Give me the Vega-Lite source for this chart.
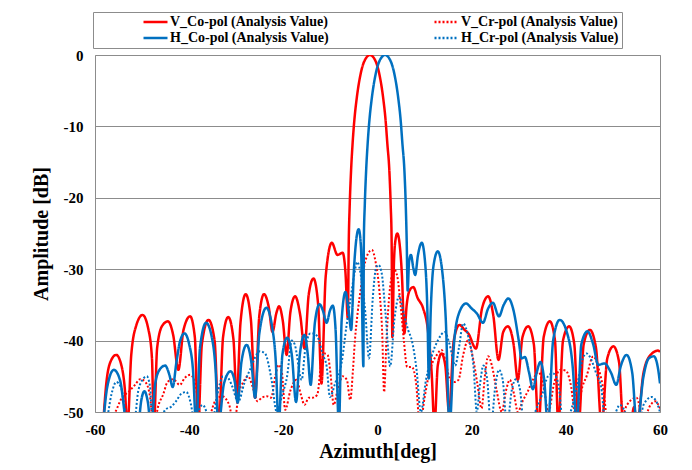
{
"$schema": "https://vega.github.io/schema/vega-lite/v6.json",
"width": 565, "height": 357,
"autosize": {"type": "none"},
"padding": {"left": 95, "top": 55, "right": 32, "bottom": 58},
"background": "white",
"config": {
"font": "Liberation Serif",
"view": {"stroke": "#8c8c8c", "strokeWidth": 1},
"axis": {"labelFont": "Liberation Serif", "labelFontWeight": "bold", "labelFontSize": 15, "labelColor": "black", "labelFlush": false, "labelExpr": "'' + datum.value", "titleFont": "Liberation Serif", "titleFontWeight": "bold", "titleFontSize": 20, "titleColor": "black", "ticks": false, "domain": false, "gridColor": "#8c8c8c", "gridOpacity": 1, "gridWidth": 1}
},
"datasets": {
"vco": [{"x":-58.3,"y":-52},{"x":-57.6,"y":-46},{"x":-56.6,"y":-42.8},{"x":-55.5,"y":-42.0},{"x":-54.5,"y":-43.2},{"x":-53.7,"y":-46.5},{"x":-53.1,"y":-52},{"x":-52.3,"y":-42},{"x":-51.2,"y":-37.8},{"x":-49.9,"y":-36.4},{"x":-48.7,"y":-38.3},{"x":-47.9,"y":-42.5},{"x":-47.5,"y":-52},{"x":-46.8,"y":-41},{"x":-45.7,"y":-37.9},{"x":-44.5,"y":-37.3},{"x":-43.4,"y":-39.2},{"x":-42.3,"y":-44.1},{"x":-41.2,"y":-38.5},{"x":-39.8,"y":-36.6},{"x":-38.8,"y":-39.5},{"x":-38.1,"y":-52},{"x":-37.3,"y":-40.5},{"x":-35.9,"y":-37.1},{"x":-34.6,"y":-40},{"x":-33.7,"y":-52},{"x":-32.8,"y":-39.5},{"x":-31.7,"y":-36.7},{"x":-30.6,"y":-39.8},{"x":-29.9,"y":-48},{"x":-29.1,"y":-37.5},{"x":-28.0,"y":-33.5},{"x":-26.9,"y":-37},{"x":-26.0,"y":-48},{"x":-25.1,"y":-36.5},{"x":-24.1,"y":-33.5},{"x":-23.1,"y":-35.3},{"x":-22.3,"y":-38.8},{"x":-21.5,"y":-36.2},{"x":-20.9,"y":-35.2},{"x":-20.1,"y":-37.3},{"x":-19.3,"y":-42},{"x":-18.5,"y":-36},{"x":-17.5,"y":-33.8},{"x":-16.4,"y":-36.5},{"x":-15.5,"y":-41.1},{"x":-14.6,"y":-33.5},{"x":-13.6,"y":-31.3},{"x":-12.6,"y":-35},{"x":-11.9,"y":-46},{"x":-11.0,"y":-31},{"x":-9.7,"y":-26.3},{"x":-8.5,"y":-28},{"x":-7.4,"y":-27.7},{"x":-6.8,"y":-30.5},{"x":-6.3,"y":-36.9},{"x":-6.1,"y":-26},{"x":-5.9,"y":-21},{"x":-5.6,"y":-16},{"x":-5.3,"y":-12.5},{"x":-4.9,"y":-9},{"x":-4.4,"y":-6},{"x":-3.5,"y":-2.4},{"x":-2.6,"y":-0.6},{"x":-1.6,"y":0},{"x":-0.6,"y":-0.6},{"x":0.3,"y":-2.4},{"x":1.2,"y":-6},{"x":1.7,"y":-9},{"x":2.1,"y":-12.5},{"x":2.5,"y":-16},{"x":2.8,"y":-21},{"x":3.0,"y":-26},{"x":3.15,"y":-39.5},{"x":3.5,"y":-29},{"x":3.8,"y":-26},{"x":4.2,"y":-25.0},{"x":4.7,"y":-26.5},{"x":5.2,"y":-31},{"x":5.7,"y":-39},{"x":6.2,"y":-35},{"x":6.8,"y":-33},{"x":7.6,"y":-32.5},{"x":8.5,"y":-34},{"x":9.7,"y":-35.5},{"x":10.7,"y":-38.5},{"x":11.5,"y":-44.5},{"x":12.1,"y":-52},{"x":12.8,"y":-43.5},{"x":13.6,"y":-41.8},{"x":14.4,"y":-43.5},{"x":15.2,"y":-50},{"x":16.2,"y":-40},{"x":17.4,"y":-37.8},{"x":18.5,"y":-38.5},{"x":19.3,"y":-39},{"x":20.9,"y":-41.1},{"x":22.2,"y":-35.5},{"x":23.5,"y":-33.8},{"x":24.6,"y":-36.5},{"x":25.7,"y":-42.7},{"x":26.7,"y":-38.8},{"x":27.7,"y":-38},{"x":28.9,"y":-40.5},{"x":29.8,"y":-45.5},{"x":30.8,"y":-39.5},{"x":32.0,"y":-38},{"x":33.2,"y":-40.5},{"x":34.2,"y":-52},{"x":35.3,"y":-39.5},{"x":36.6,"y":-37.3},{"x":37.7,"y":-40},{"x":38.4,"y":-52},{"x":39.4,"y":-40},{"x":40.7,"y":-38},{"x":41.8,"y":-40.5},{"x":42.7,"y":-52},{"x":43.8,"y":-40.5},{"x":45.1,"y":-38.5},{"x":46.4,"y":-41},{"x":47.6,"y":-52},{"x":48.8,"y":-42.5},{"x":50.1,"y":-40.8},{"x":51.3,"y":-43},{"x":52.2,"y":-52},{"x":53.5,"y":-53},{"x":54.5,"y":-49.3},{"x":55.1,"y":-52},{"x":56.5,"y":-44.5},{"x":58,"y":-42},{"x":59.6,"y":-41.4},{"x":60,"y":-41.6}],
"vcr": [{"x":-58.5,"y":-52},{"x":-57,"y":-51},{"x":-55.7,"y":-50},{"x":-54.3,"y":-48},{"x":-52.9,"y":-47.2},{"x":-51.5,"y":-46.2},{"x":-50.4,"y":-45.4},{"x":-49.3,"y":-45.8},{"x":-48.3,"y":-47.9},{"x":-47.6,"y":-52},{"x":-46.5,"y":-49},{"x":-45.5,"y":-47.5},{"x":-44.6,"y":-45.8},{"x":-43.4,"y":-45.4},{"x":-42,"y":-46.2},{"x":-40.9,"y":-45.2},{"x":-39.8,"y":-44.8},{"x":-38.9,"y":-45.5},{"x":-38.2,"y":-48},{"x":-37.3,"y":-52},{"x":-36.5,"y":-52},{"x":-34.5,"y":-48.5},{"x":-33,"y":-47.8},{"x":-31.5,"y":-49},{"x":-30.5,"y":-52},{"x":-29.5,"y":-47.5},{"x":-28.5,"y":-45.8},{"x":-27.5,"y":-45},{"x":-26.5,"y":-46.5},{"x":-25.5,"y":-48.5},{"x":-24.6,"y":-48},{"x":-23.5,"y":-47.8},{"x":-22.6,"y":-48},{"x":-21.7,"y":-45},{"x":-21,"y":-43.4},{"x":-20.3,"y":-44.5},{"x":-19.6,"y":-49.7},{"x":-18.5,"y":-47},{"x":-17.2,"y":-45.5},{"x":-16.3,"y":-47.5},{"x":-15.5,"y":-49},{"x":-14.6,"y":-48},{"x":-13.8,"y":-48},{"x":-12.8,"y":-47.6},{"x":-12,"y":-43.5},{"x":-11.3,"y":-41.8},{"x":-10.6,"y":-42},{"x":-10.0,"y":-44.5},{"x":-9.3,"y":-49},{"x":-8.5,"y":-47},{"x":-7.4,"y":-45},{"x":-6.5,"y":-45.5},{"x":-5.8,"y":-48.3},{"x":-5.2,"y":-44},{"x":-4.8,"y":-40},{"x":-4.2,"y":-36},{"x":-3.5,"y":-32.5},{"x":-2.8,"y":-29.5},{"x":-2.0,"y":-27.8},{"x":-1.2,"y":-27.3},{"x":-0.4,"y":-29},{"x":0.4,"y":-33},{"x":1.0,"y":-39},{"x":1.4,"y":-47.2},{"x":1.9,"y":-40},{"x":2.4,"y":-34.5},{"x":3.0,"y":-31},{"x":3.5,"y":-30},{"x":4.2,"y":-31},{"x":4.9,"y":-35},{"x":5.6,"y":-40},{"x":6.3,"y":-43.7},{"x":7.3,"y":-43.7},{"x":8.2,"y":-46},{"x":9.0,"y":-52},{"x":10,"y":-48},{"x":11,"y":-44.5},{"x":12.6,"y":-42},{"x":13.6,"y":-41.3},{"x":14.5,"y":-43},{"x":15.4,"y":-45.5},{"x":16.3,"y":-45.8},{"x":17.2,"y":-45.5},{"x":18.2,"y":-42},{"x":19.2,"y":-40},{"x":20.3,"y":-42.5},{"x":21.2,"y":-46},{"x":22.1,"y":-49.5},{"x":22.8,"y":-45},{"x":23.5,"y":-42.2},{"x":24.3,"y":-43.5},{"x":25.3,"y":-47},{"x":26.4,"y":-50},{"x":27.3,"y":-47},{"x":28.1,"y":-45.5},{"x":29.0,"y":-47.5},{"x":29.8,"y":-50},{"x":30.8,"y":-48.5},{"x":32.0,"y":-47},{"x":33,"y":-45.5},{"x":34.2,"y":-44.4},{"x":35.3,"y":-46.5},{"x":36.3,"y":-50},{"x":37.5,"y":-46},{"x":38.8,"y":-44.1},{"x":40.0,"y":-44.2},{"x":41.0,"y":-46},{"x":42.2,"y":-51},{"x":43.5,"y":-46.5},{"x":44.4,"y":-45},{"x":45.8,"y":-42.2},{"x":47,"y":-44},{"x":48,"y":-47},{"x":49,"y":-52},{"x":51,"y":-52},{"x":53,"y":-49},{"x":55,"y":-48},{"x":56.5,"y":-51},{"x":58,"y":-49},{"x":59,"y":-48.5},{"x":60,"y":-49.5}],
"hco": [{"x":-58.3,"y":-52},{"x":-57.4,"y":-46.5},{"x":-56.0,"y":-44.1},{"x":-54.7,"y":-45.5},{"x":-53.3,"y":-52},{"x":-52.0,"y":-54},{"x":-50.8,"y":-52},{"x":-50.2,"y":-48.5},{"x":-49.5,"y":-47.1},{"x":-48.8,"y":-48.5},{"x":-48.1,"y":-52},{"x":-47.2,"y":-46},{"x":-46.2,"y":-44},{"x":-45.1,"y":-43.5},{"x":-44.2,"y":-44.8},{"x":-43.5,"y":-46.5},{"x":-42.7,"y":-43},{"x":-41.9,"y":-40},{"x":-41.0,"y":-39},{"x":-40.0,"y":-40.5},{"x":-39.2,"y":-44},{"x":-38.5,"y":-52},{"x":-37.7,"y":-41},{"x":-36.4,"y":-37.5},{"x":-35.2,"y":-39.5},{"x":-34.4,"y":-44},{"x":-33.8,"y":-52},{"x":-32.6,"y":-46},{"x":-31.2,"y":-44.3},{"x":-30.3,"y":-45.8},{"x":-29.7,"y":-48.7},{"x":-28.9,"y":-43},{"x":-27.8,"y":-40.6},{"x":-26.8,"y":-43},{"x":-26.0,"y":-48},{"x":-25.1,"y":-39},{"x":-23.6,"y":-35.4},{"x":-22.4,"y":-38},{"x":-21.6,"y":-43},{"x":-21.0,"y":-52},{"x":-20.2,"y":-42},{"x":-19.2,"y":-39.6},{"x":-18.2,"y":-42},{"x":-17.3,"y":-48.6},{"x":-16.5,"y":-42},{"x":-15.5,"y":-39.2},{"x":-14.8,"y":-42},{"x":-14.2,"y":-46.2},{"x":-13.3,"y":-37.5},{"x":-12.3,"y":-34.9},{"x":-11.6,"y":-35.8},{"x":-10.8,"y":-37.5},{"x":-10.1,"y":-35.8},{"x":-9.5,"y":-35.1},{"x":-8.9,"y":-38.5},{"x":-8.2,"y":-52},{"x":-7.6,"y":-37},{"x":-6.8,"y":-33.2},{"x":-6.1,"y":-36},{"x":-5.6,"y":-38.5},{"x":-5.0,"y":-30},{"x":-4.5,"y":-25.8},{"x":-4.0,"y":-24.4},{"x":-3.5,"y":-27},{"x":-3.0,"y":-43.6},{"x":-2.9,"y":-26},{"x":-2.7,"y":-21},{"x":-2.4,"y":-16},{"x":-2.1,"y":-12.5},{"x":-1.7,"y":-9},{"x":-1.2,"y":-6},{"x":-0.3,"y":-2.4},{"x":0.6,"y":-0.6},{"x":1.6,"y":0},{"x":2.6,"y":-0.6},{"x":3.5,"y":-2.4},{"x":4.4,"y":-6},{"x":4.9,"y":-9},{"x":5.3,"y":-12.5},{"x":5.7,"y":-16},{"x":6.0,"y":-21},{"x":6.2,"y":-26},{"x":6.4,"y":-33},{"x":6.7,"y":-29},{"x":7.1,"y":-28},{"x":7.6,"y":-29.8},{"x":8.0,"y":-30.8},{"x":8.6,"y":-28},{"x":9.4,"y":-26.3},{"x":10.1,"y":-29},{"x":10.6,"y":-36},{"x":10.9,"y":-45.3},{"x":11.3,"y":-36},{"x":11.9,"y":-29.5},{"x":12.8,"y":-27.5},{"x":13.7,"y":-30},{"x":14.5,"y":-37},{"x":15.3,"y":-52},{"x":16.3,"y":-40},{"x":17.4,"y":-36},{"x":18.8,"y":-34.8},{"x":20.0,"y":-35.5},{"x":21.1,"y":-36.2},{"x":22.4,"y":-37.5},{"x":23.5,"y":-35.5},{"x":24.5,"y":-34.7},{"x":25.8,"y":-36.6},{"x":26.8,"y":-35},{"x":27.8,"y":-34.1},{"x":28.9,"y":-35.8},{"x":30.0,"y":-40},{"x":30.6,"y":-42.5},{"x":31.3,"y":-42.3},{"x":32.2,"y":-44.5},{"x":33.0,"y":-46.8},{"x":33.8,"y":-44.5},{"x":34.6,"y":-43},{"x":35.4,"y":-45.5},{"x":36.2,"y":-52},{"x":37.3,"y":-40},{"x":38.7,"y":-37.1},{"x":40.2,"y":-38.8},{"x":41.5,"y":-44},{"x":42.3,"y":-52},{"x":43.3,"y":-40.5},{"x":44.6,"y":-38.7},{"x":45.8,"y":-40.5},{"x":46.9,"y":-43.4},{"x":48.2,"y":-43.2},{"x":49.6,"y":-44.5},{"x":50.7,"y":-46.2},{"x":51.7,"y":-43.5},{"x":52.9,"y":-42},{"x":54.1,"y":-44.5},{"x":55.1,"y":-52},{"x":56.5,"y":-45},{"x":57.6,"y":-42.5},{"x":58.7,"y":-42.2},{"x":59.6,"y":-44},{"x":60,"y":-46}],
"hcr": [{"x":-58.5,"y":-52},{"x":-57.5,"y":-51},{"x":-56.5,"y":-47.5},{"x":-55.5,"y":-45.8},{"x":-54.5,"y":-46.5},{"x":-53.5,"y":-50},{"x":-52.5,"y":-52},{"x":-51.8,"y":-52},{"x":-50.8,"y":-47},{"x":-49.7,"y":-45.3},{"x":-49,"y":-45},{"x":-48.3,"y":-46.5},{"x":-47.8,"y":-52},{"x":-46.5,"y":-52},{"x":-45.1,"y":-49.7},{"x":-43.7,"y":-49.2},{"x":-42.8,"y":-48.5},{"x":-41.6,"y":-47.4},{"x":-40.6,"y":-47.2},{"x":-39.6,"y":-49},{"x":-38.8,"y":-52},{"x":-37.8,"y":-49.5},{"x":-37.1,"y":-49},{"x":-36.3,"y":-50},{"x":-35.3,"y":-52},{"x":-34,"y":-47.5},{"x":-32.8,"y":-45},{"x":-31.8,"y":-45.2},{"x":-30.8,"y":-46.5},{"x":-29.6,"y":-48.6},{"x":-28.3,"y":-46},{"x":-27.1,"y":-44.1},{"x":-25.0,"y":-41.5},{"x":-23.9,"y":-41.8},{"x":-22.5,"y":-45.5},{"x":-21.4,"y":-50},{"x":-20.2,"y":-47.5},{"x":-19.2,"y":-45},{"x":-18.2,"y":-40},{"x":-17.6,"y":-40.5},{"x":-16.1,"y":-45.5},{"x":-15.4,"y":-41.5},{"x":-14.3,"y":-39},{"x":-13.6,"y":-39},{"x":-12.7,"y":-39.5},{"x":-11.6,"y":-42},{"x":-10.8,"y":-43.6},{"x":-10.1,"y":-47.9},{"x":-9.0,"y":-46},{"x":-7.6,"y":-43},{"x":-6.6,"y":-38},{"x":-5.8,"y":-34.5},{"x":-5.0,"y":-31},{"x":-4.3,"y":-29},{"x":-3.5,"y":-31},{"x":-2.6,"y":-36},{"x":-1.8,"y":-42.5},{"x":-1.0,"y":-34},{"x":-0.3,"y":-29.8},{"x":0.2,"y":-29.4},{"x":0.9,"y":-30.6},{"x":1.7,"y":-36.2},{"x":2.7,"y":-43.6},{"x":3.6,"y":-37},{"x":4.6,"y":-33.8},{"x":5.5,"y":-36},{"x":6.5,"y":-38.5},{"x":7.3,"y":-40},{"x":8.3,"y":-44.1},{"x":9.2,"y":-50},{"x":10.3,"y":-45.5},{"x":11.5,"y":-42.2},{"x":12.8,"y":-40},{"x":14.3,"y":-38.8},{"x":15.3,"y":-40.5},{"x":16.5,"y":-43.5},{"x":17.3,"y":-41},{"x":18.2,"y":-37.6},{"x":19.3,"y":-39.5},{"x":20.4,"y":-43.7},{"x":21.1,"y":-50},{"x":21.7,"y":-46.5},{"x":22.5,"y":-43.5},{"x":23.3,"y":-45.5},{"x":24.1,"y":-52},{"x":25,"y":-46.5},{"x":25.8,"y":-44.1},{"x":26.6,"y":-45.5},{"x":27.5,"y":-52},{"x":28.5,"y":-47},{"x":29.4,"y":-45.4},{"x":30.3,"y":-47},{"x":31.1,"y":-52},{"x":32.5,"y":-52},{"x":33.5,"y":-50},{"x":35,"y":-47.5},{"x":36.2,"y":-45},{"x":37.3,"y":-44.6},{"x":38.4,"y":-46},{"x":39.5,"y":-52},{"x":41,"y":-50},{"x":42.5,"y":-46},{"x":43.6,"y":-42.5},{"x":44.4,"y":-41.8},{"x":45.3,"y":-42.5},{"x":46.4,"y":-44.5},{"x":47.5,"y":-46.5},{"x":48.5,"y":-52},{"x":50,"y":-51},{"x":51.5,"y":-49},{"x":53,"y":-50.5},{"x":54.3,"y":-52},{"x":55.5,"y":-52},{"x":56.5,"y":-49},{"x":58.2,"y":-47.9},{"x":59.2,"y":-48.5},{"x":60,"y":-50}]
},
"layer": [
{"data": {"name": "vco"}, "mark": {"type": "line", "interpolate": "monotone", "clip": true, "strokeWidth": 2.5},
 "encoding": {
  "x": {"field": "x", "type": "quantitative", "scale": {"domain": [-60, 60], "nice": false}, "axis": {"values": [-60, -40, -20, 0, 20, 40, 60], "title": "Azimuth[deg]", "grid": false, "labelPadding": 10, "titlePadding": 4}},
  "y": {"field": "y", "type": "quantitative", "scale": {"domain": [-50, 0], "nice": false}, "axis": {"values": [-50, -40, -30, -20, -10, 0], "title": "Amplitude [dB]", "labelPadding": 12, "titlePadding": 12}},
  "color": {"datum": "V_Co-pol (Analysis Value)", "type": "nominal",
   "scale": {"domain": ["V_Co-pol (Analysis Value)", "V_Cr-pol (Analysis Value)", "H_Co-pol (Analysis Value)", "H_Cr-pol (Analysis Value)"], "range": ["#FF0000", "#FF0000", "#0070C0", "#0070C0"]},
   "legend": {"title": null, "orient": "none", "legendX": -2, "legendY": -43, "direction": "horizontal", "columns": 2, "columnPadding": 58, "rowPadding": 2, "padding": 3, "clipHeight": 14, "strokeColor": "#8c8c8c", "fillColor": "white", "labelFont": "Liberation Serif", "labelFontWeight": "bold", "labelFontSize": 14, "labelColor": "black", "symbolSize": 576, "symbolStrokeWidth": 2.5, "symbolType": "stroke", "symbolOffset": 46, "labelOffset": 1}},
  "strokeDash": {"datum": "V_Co-pol (Analysis Value)", "type": "nominal",
   "scale": {"domain": ["V_Co-pol (Analysis Value)", "V_Cr-pol (Analysis Value)", "H_Co-pol (Analysis Value)", "H_Cr-pol (Analysis Value)"], "range": [[1, 0], [2, 2], [1, 0], [2, 2]]}}
 }},
{"data": {"name": "vcr"}, "mark": {"type": "line", "interpolate": "monotone", "clip": true, "strokeWidth": 2},
 "encoding": {"x": {"field": "x", "type": "quantitative"}, "y": {"field": "y", "type": "quantitative"},
  "color": {"datum": "V_Cr-pol (Analysis Value)", "type": "nominal"}, "strokeDash": {"datum": "V_Cr-pol (Analysis Value)", "type": "nominal"}}},
{"data": {"name": "hco"}, "mark": {"type": "line", "interpolate": "monotone", "clip": true, "strokeWidth": 2.5},
 "encoding": {"x": {"field": "x", "type": "quantitative"}, "y": {"field": "y", "type": "quantitative"},
  "color": {"datum": "H_Co-pol (Analysis Value)", "type": "nominal"}, "strokeDash": {"datum": "H_Co-pol (Analysis Value)", "type": "nominal"}}},
{"data": {"name": "hcr"}, "mark": {"type": "line", "interpolate": "monotone", "clip": true, "strokeWidth": 2},
 "encoding": {"x": {"field": "x", "type": "quantitative"}, "y": {"field": "y", "type": "quantitative"},
  "color": {"datum": "H_Cr-pol (Analysis Value)", "type": "nominal"}, "strokeDash": {"datum": "H_Cr-pol (Analysis Value)", "type": "nominal"}}}
]
}
